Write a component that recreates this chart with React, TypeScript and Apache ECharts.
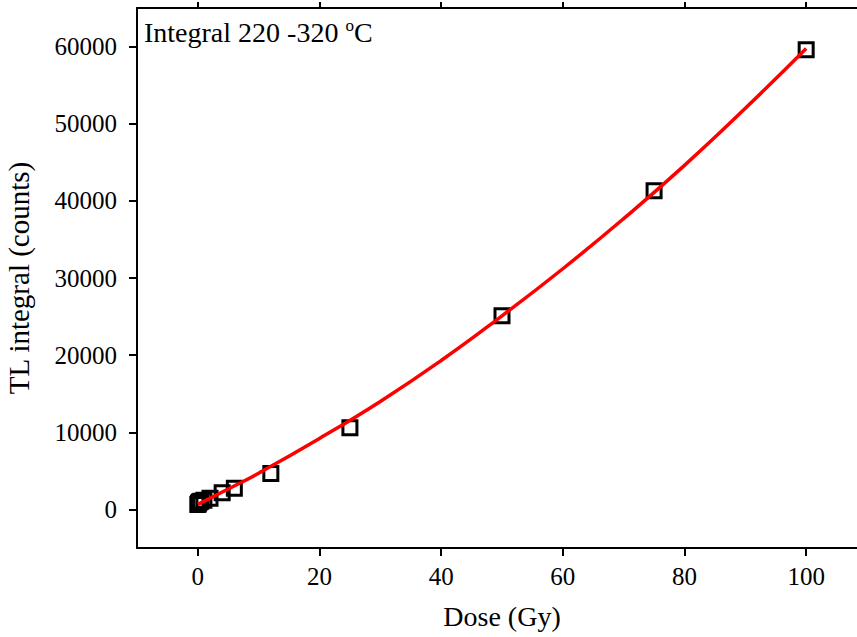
import React, { useEffect, useRef } from "react";
import * as echarts from "echarts";

const doses = [0, 0.1, 0.25, 0.5, 1, 2, 4, 6, 12, 25, 50, 75, 100];
const counts = [650, 800, 950, 1050, 1200, 1450, 2150, 2750, 4650, 10600, 25100, 41300, 59600];
const fitDoses = [0, 5, 10, 20, 30, 40, 50, 60, 70, 80, 90, 100];
const fitCounts = [650, 2650, 4700, 9200, 14000, 19300, 25100, 31200, 37700, 44600, 52000, 59750];
const xTicks = [0, 20, 40, 60, 80, 100];
const yTicks = [0, 10000, 20000, 30000, 40000, 50000, 60000];

const FONT = "'Liberation Serif', 'Times New Roman', serif";

export default function App() {
  const ref = useRef<HTMLDivElement>(null);
  useEffect(() => {
    if (!ref.current) return;
    const chart = echarts.init(ref.current, null, { renderer: "svg" });
    const scatterData = doses.map((d, i) => [d, counts[i]]);
    const fitData = fitDoses.map((d, i) => [d, fitCounts[i]]);
    chart.setOption({
      animation: false,
      backgroundColor: "#fff",
      grid: {
        left: 137,
        top: 8,
        height: 540,
        width: 730,
        containLabel: false,
        outerBoundsMode: "none",
      },
      xAxis: [
        {
          type: "value",
          min: -10,
          max: 110,
          interval: 10,
          name: "Dose (Gy)",
          nameLocation: "middle",
          nameGap: 54,
          nameTextStyle: { fontFamily: FONT, fontSize: 28, color: "#000" },
          axisLine: { show: true, onZero: false, lineStyle: { color: "#000", width: 2 } },
          axisTick: {
            show: true,
            length: 8,
            lineStyle: { color: "#000", width: 2 },
            customValues: xTicks,
          },
          axisLabel: {
            fontFamily: FONT,
            fontSize: 25,
            color: "#000",
            margin: 16,
            customValues: xTicks,
          },
          splitLine: { show: false },
        },
        {
          type: "value",
          position: "top",
          min: -10,
          max: 110,
          interval: 10,
          axisLine: { show: true, onZero: false, lineStyle: { color: "#000", width: 2 } },
          axisTick: {
            show: true,
            length: 6,
            lineStyle: { color: "#000", width: 2 },
            customValues: xTicks,
          },
          axisLabel: { show: false },
          splitLine: { show: false },
        },
      ],
      yAxis: {
        type: "value",
        min: -5000,
        max: 65000,
        interval: 5000,
        name: "TL integral (counts)",
        nameLocation: "middle",
        nameGap: 104,
        nameTextStyle: { fontFamily: FONT, fontSize: 29, color: "#000" },
        axisLine: { show: true, onZero: false, lineStyle: { color: "#000", width: 2 } },
        axisTick: {
          show: true,
          length: 8,
          lineStyle: { color: "#000", width: 2 },
          customValues: yTicks,
        },
        axisLabel: {
          fontFamily: FONT,
          fontSize: 25,
          color: "#000",
          margin: 20,
          customValues: yTicks,
          formatter: (v: number) => String(v),
        },
        splitLine: { show: false },
      },
      graphic: [
        {
          type: "text",
          left: 144,
          top: 17,
          style: {
            text: "Integral 220 -320 {sup|o}C",
            fontFamily: FONT,
            fontSize: 28,
            fill: "#000",
            rich: {
              sup: { fontFamily: FONT, fontSize: 17, verticalAlign: "top", padding: [0, 0, 14, 0] },
            },
          },
        },
      ],
      series: [
        {
          type: "scatter",
          data: scatterData,
          symbol: "rect",
          symbolSize: 14,
          itemStyle: { color: "rgba(255,255,255,0)", borderColor: "#000", borderWidth: 3, opacity: 1 },
          z: 2,
        },
        {
          type: "line",
          data: fitData,
          smooth: true,
          showSymbol: false,
          lineStyle: { color: "#ff0000", width: 3.5 },
          z: 3,
        },
      ],
    });
    return () => chart.dispose();
  }, []);
  return (
    <div
      ref={ref}
      style={{ position: "fixed", left: 0, top: 0, width: 857, height: 637, background: "#fff" }}
    />
  );
}
